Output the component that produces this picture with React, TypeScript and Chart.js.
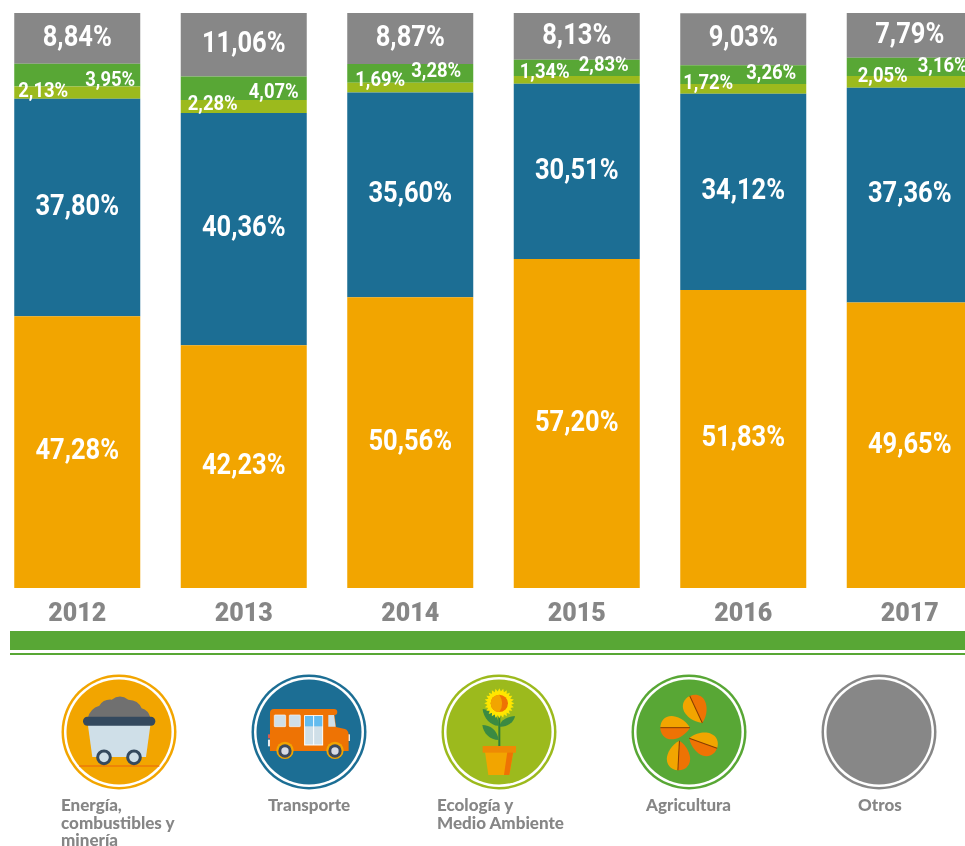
import React, { useEffect, useRef } from "react";
import { Chart, registerables } from "chart.js";

Chart.register(...registerables);

const years = ["2012", "2013", "2014", "2015", "2016", "2017"];
const energia = [47.28, 42.23, 50.56, 57.2, 51.83, 49.65];
const transporte = [37.8, 40.36, 35.6, 30.51, 34.12, 37.36];
const ecologia = [2.13, 2.28, 1.69, 1.34, 1.72, 2.05];
const agricultura = [3.95, 4.07, 3.28, 2.83, 3.26, 3.16];
const otros = [8.84, 11.06, 8.87, 8.13, 9.03, 7.79];

const ORANGE = "#f2a500";
const BLUE = "#1c6e94";
const LIME = "#9cba1d";
const GREEN = "#58a735";
const GREY = "#878787";
const FONT = "Roboto, sans-serif";

// nudges of the two small labels from the centre of their bar and the top of the lime band
const ecoDx = [-34, -31, -30, -32, -35, -27];
const agrDx = [33, 30, 26, 27, 28, 33];
const ecoDy = [5, 5, -2, -3, 0, 1];
const agrDy = [-6, -7, -11, -10, -10, -9];

const fmt = (v: number) => v.toFixed(2).replace(".", ",") + "%";

const labelPlugin = {
  id: "valueLabels",
  afterDatasetsDraw(chart: any) {
    const { ctx } = chart;
    ctx.save();
    ctx.fillStyle = "#ffffff";
    ctx.textAlign = "center";
    ctx.textBaseline = "middle";
    const put = (t: string, x: number, y: number) =>
      ctx.fillText(t, x, y, ctx.measureText(t).width * 0.88);
    chart.data.datasets.forEach((ds: any, i: number) => {
      chart.getDatasetMeta(i).data.forEach((bar: any, j: number) => {
        const v = ds.data[j];
        if (i === 2 || i === 3) {
          const ecoTop = chart.getDatasetMeta(2).data[j].y;
          ctx.font = `700 21px ${FONT}`;
          const dx = i === 2 ? ecoDx[j] : agrDx[j];
          const dy = i === 2 ? ecoDy[j] : agrDy[j];
          put(fmt(v), bar.x + dx, ecoTop + dy);
        } else {
          ctx.font = `700 29px ${FONT}`;
          put(fmt(v), bar.x, (bar.y + bar.base) / 2);
        }
      });
    });
    ctx.restore();
  },
};

function Seed({ x, y, r, flip }: { x: number; y: number; r: number; flip?: boolean }) {
  return (
    <g transform={`translate(${x},${y}) rotate(${r})`}>
      <path d="M0,-45 C-25,-30 -35,-5 -35,10 C-35,32 -18,44 0,44 Z" fill={flip ? "#ee7304" : ORANGE} />
      <path d="M0,-45 C25,-30 35,-5 35,10 C35,32 18,44 0,44 Z" fill={flip ? ORANGE : "#ee7304"} />
      <line x1="0" y1="-45" x2="0" y2="44" stroke="#8a3b00" strokeWidth="3" />
    </g>
  );
}

function Ring({ cx, color }: { cx: number; color: string }) {
  return (
    <g>
      <circle cx={cx} cy={732} r={57.5} fill={color} />
      <circle cx={cx} cy={732} r={55} fill="#ffffff" />
      <circle cx={cx} cy={732} r={52.5} fill={color} />
    </g>
  );
}

function Icons() {
  const petals = [];
  for (let a = 0; a < 360; a += 30) {
    petals.push(
      <polygon key={a} points="238,70 248,90 228,90" fill="#ffe600" transform={`rotate(${a} 238 115)`} />
    );
  }
  return (
    <svg width="965" height="846" style={{ position: "absolute", left: 0, top: 0 }}>
      <Ring cx={119} color={ORANGE} />
      <Ring cx={309} color={BLUE} />
      <Ring cx={499} color={LIME} />
      <Ring cx={689} color={GREEN} />
      <Ring cx={879} color={GREY} />
      <g transform="translate(40,665) scale(0.3333)">
        <line x1="118" y1="303" x2="358" y2="303" stroke="#ec7a08" strokeWidth="5" />
        <path d="M143,160 Q150,130 178,122 Q190,102 215,104 Q240,85 265,104 Q295,105 305,130 Q325,135 332,160 Z" fill="#707070" />
        <polygon points="143,175 332,175 318,276 157,276" fill="#cfdfe8" />
        <rect x="129" y="155" width="217" height="27" rx="13" fill="#34495e" />
        <circle cx="192" cy="277" r="19" fill="#cfdfe8" stroke="#34495e" strokeWidth="9" />
        <circle cx="282" cy="277" r="19" fill="#cfdfe8" stroke="#34495e" strokeWidth="9" />
      </g>
      <g transform="translate(40,665) scale(0.3333)">
        <rect x="684" y="208" width="8" height="12" fill="#e05a4a" />
        <rect x="684" y="224" width="8" height="20" fill="#e8eef2" />
        <rect x="922" y="208" width="8" height="20" fill="#e8eef2" />
        <path d="M702,132 H882 Q892,132 892,141 Q892,150 884,150 L888,186 L915,192 Q926,196 926,210 V258 H690 V144 Q690,132 702,132 Z" fill="#ee7304" />
        <rect x="703" y="150" width="34" height="35" rx="2" fill="#cfdfe8" stroke="#f6f6f6" strokeWidth="2" />
        <rect x="748" y="150" width="33" height="35" rx="2" fill="#cfdfe8" stroke="#f6f6f6" strokeWidth="2" />
        <rect x="794" y="152" width="54" height="88" fill="#cfdfe8" stroke="#ffffff" strokeWidth="3" />
        <rect x="795" y="153" width="52" height="31" fill="#63bbee" />
        <line x1="821" y1="152" x2="821" y2="240" stroke="#ffffff" strokeWidth="3" />
        <polygon points="865,150 882,150 887,185 865,185" fill="#cfdfe8" />
        <circle cx="735" cy="256" r="26" fill={ORANGE} />
        <circle cx="885" cy="256" r="26" fill={ORANGE} />
        <circle cx="735" cy="258" r="20" fill="#3d4a5e" />
        <circle cx="885" cy="258" r="20" fill="#3d4a5e" />
        <circle cx="735" cy="258" r="11" fill="#d8dce6" />
        <circle cx="885" cy="258" r="11" fill="#d8dce6" />
      </g>
      <g transform="translate(420,665) scale(0.3333)">
        <line x1="238" y1="145" x2="238" y2="245" stroke="#2e7d3c" strokeWidth="6" />
        <path d="M238,182 C215,185 190,160 188,132 C212,135 235,150 238,182 Z" fill="#3a8a42" />
        <path d="M238,185 C255,188 282,175 285,153 C262,155 242,165 238,185 Z" fill="#3a8a42" />
        <path d="M236,225 C210,225 190,205 187,180 C210,180 232,195 236,225 Z" fill="#3a8a42" />
        {petals}
        <g transform="rotate(15 238 115)">{petals}</g>
        <circle cx="238" cy="115" r="31" fill="#ffe600" />
        <circle cx="238" cy="115" r="26" fill="#ee7304" />
        <path d="M238,89 A26,26 0 0 0 238,141 Q255,115 238,89 Z" fill={ORANGE} />
        <polygon points="195,260 280,260 268,330 205,330" fill={ORANGE} />
        <polygon points="262,260 280,260 268,330 252,330" fill="#ee7304" />
        <rect x="188" y="243" width="100" height="20" fill="#ee8a04" />
      </g>
      <g transform="translate(420,665) scale(0.3333)">
        <Seed x={828} y={133} r={155} flip />
        <Seed x={765} y={188} r={90} />
        <Seed x={850} y={235} r={-70} flip />
        <Seed x={776} y={272} r={3} />
      </g>
    </svg>
  );
}

const legendText: React.CSSProperties = {
  position: "absolute",
  font: `900 17px/17.5px Lato, sans-serif`,
  color: "#868686",
  whiteSpace: "nowrap",
};

export default function App() {
  const ref = useRef<HTMLCanvasElement>(null);
  useEffect(() => {
    const mk = (label: string, data: number[], color: string) => ({
      label,
      data,
      backgroundColor: color,
      borderWidth: 0,
      barPercentage: 0.7568,
      categoryPercentage: 1,
    });
    const chart = new Chart(ref.current!, {
      type: "bar",
      data: {
        labels: years,
        datasets: [
          mk("Energía, combustibles y minería", energia, ORANGE),
          mk("Transporte", transporte, BLUE),
          mk("Ecología y Medio Ambiente", ecologia, LIME),
          mk("Agricultura", agricultura, GREEN),
          mk("Otros", otros, GREY),
        ],
      },
      options: {
        animation: false,
        responsive: false,
        layout: { padding: { top: 13 } },
        plugins: { legend: { display: false }, tooltip: { enabled: false } },
        scales: {
          x: {
            stacked: true,
            grid: { display: false },
            border: { display: false },
            ticks: {
              color: "#868686",
              font: { family: "Roboto, sans-serif", weight: "900", size: 25 },
              padding: 4,
              maxRotation: 0,
              autoSkip: false,
            },
          },
          y: { stacked: true, display: false, min: 0, max: 100 },
        },
      },
      plugins: [labelPlugin],
    });
    return () => chart.destroy();
  }, []);
  return (
    <div style={{ position: "fixed", left: 0, top: 0, width: 965, height: 846, overflow: "hidden", background: "#fff" }}>
      <canvas ref={ref} width={999} height={634} style={{ position: "absolute", left: -6, top: 0 }} />
      <div style={{ position: "absolute", left: 10, top: 631, width: 955, height: 19, background: GREEN }} />
      <div style={{ position: "absolute", left: 10, top: 653, width: 955, height: 2, background: GREEN }} />
      <Icons />
      <div style={{ ...legendText, left: 61, top: 796 }}>Energía,<br />combustibles y<br />minería</div>
      <div style={{ ...legendText, left: 268, top: 796 }}>Transporte</div>
      <div style={{ ...legendText, left: 437, top: 796 }}>Ecología y<br />Medio Ambiente</div>
      <div style={{ ...legendText, left: 646, top: 796 }}>Agricultura</div>
      <div style={{ ...legendText, left: 858, top: 796 }}>Otros</div>
    </div>
  );
}
